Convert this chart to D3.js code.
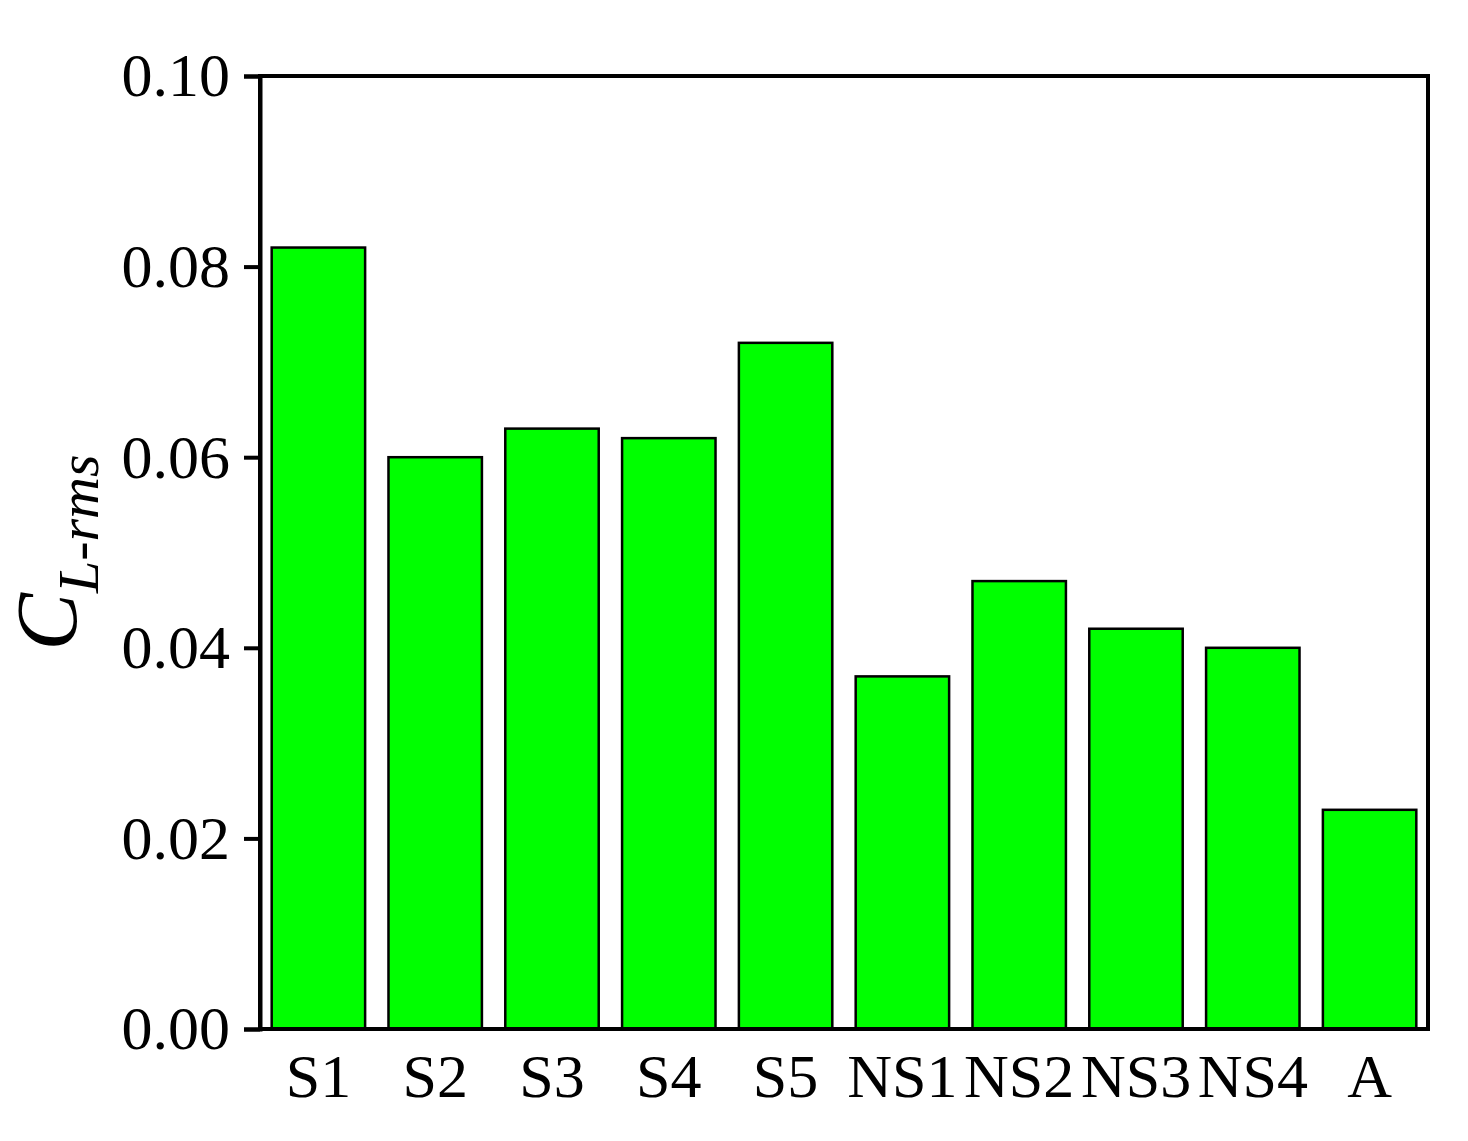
<!DOCTYPE html>
<html>
<head>
<meta charset="utf-8">
<script src="https://cdn.jsdelivr.net/npm/d3@7"></script>
<style>
  html, body { margin: 0; padding: 0; background: #fff; }
  svg { display: block; }
  text { font-family: "Liberation Serif", "Times New Roman", serif; }
</style>
</head>
<body>
<svg id="chart" width="1468" height="1141"></svg>
<script>
const categories = ["S1", "S2", "S3", "S4", "S5", "NS1", "NS2", "NS3", "NS4", "A"];
const values = [0.082, 0.060, 0.063, 0.062, 0.072, 0.037, 0.047, 0.042, 0.040, 0.023];
const yTicks = [0.00, 0.02, 0.04, 0.06, 0.08, 0.10];

const W = 1468, H = 1141;
const margin = {top: 76, right: 40, bottom: 112, left: 260};
const svg = d3.select("#chart");
const iw = W - margin.left - margin.right;
const ih = H - margin.top - margin.bottom;

const x = d3.scaleBand().domain(categories).range([0, iw]).paddingInner(0.2).paddingOuter(0.1);
const y = d3.scaleLinear().domain([0, 0.10]).range([ih, 0]);

const g = svg.append("g").attr("transform", `translate(${margin.left},${margin.top})`);

// bars
g.selectAll("rect.bar").data(values).enter().append("rect")
  .attr("class", "bar")
  .attr("x", (d, i) => x(categories[i]))
  .attr("y", d => y(d))
  .attr("width", x.bandwidth())
  .attr("height", d => y(0) - y(d))
  .attr("fill", "#00ff00")
  .attr("stroke", "#000")
  .attr("stroke-width", 2.5);

// frame
g.append("rect").attr("x", 0).attr("y", 0).attr("width", iw).attr("height", ih)
  .attr("fill", "none").attr("stroke", "#000").attr("stroke-width", 4);

// y axis
const yAxis = d3.axisLeft(y).tickValues(yTicks).tickFormat(d3.format(".2f")).tickSize(16).tickPadding(14);
const ya = g.append("g").call(yAxis);
ya.select(".domain").attr("stroke-width", 4);
ya.selectAll(".tick line").attr("stroke-width", 4);
ya.selectAll(".tick text").attr("font-size", 62).attr("fill", "#000")
  .attr("font-family", "Liberation Serif, serif");

// x axis
const xAxis = d3.axisBottom(x).tickSize(0).tickPadding(24);
const xa = g.append("g").attr("transform", `translate(0,${ih})`).call(xAxis);
xa.select(".domain").remove();
xa.selectAll(".tick text").attr("font-size", 62).attr("fill", "#000")
  .attr("font-family", "Liberation Serif, serif");

// y label
const yl = svg.append("text")
  .attr("transform", `translate(76, ${margin.top + ih / 2}) rotate(-90)`)
  .attr("text-anchor", "middle")
  .attr("font-style", "italic");
yl.append("tspan").attr("font-size", 86).text("C");
yl.append("tspan").attr("font-size", 58).attr("dy", 22).text("L-rms");
</script>
</body>
</html>
